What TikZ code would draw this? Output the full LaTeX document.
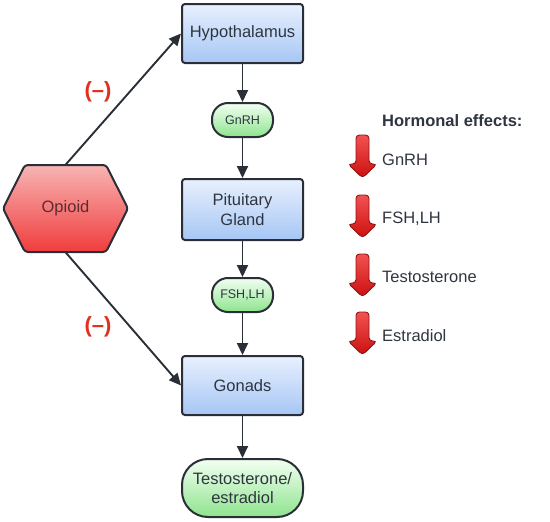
\documentclass[tikz,border=0pt]{standalone}
\usepackage{fontspec}
\setmainfont{Liberation Sans}
\usetikzlibrary{arrows.meta,shadings}
\definecolor{txt}{HTML}{2F3540}
\definecolor{edgec}{HTML}{2A2F37}
\definecolor{blueT}{HTML}{E8F0FD}
\definecolor{blueB}{HTML}{A6C6F5}
\definecolor{greenT}{HTML}{F2FFF2}
\definecolor{greenB}{HTML}{8EE48E}
\definecolor{hexT}{HTML}{F8B4B4}
\definecolor{hexB}{HTML}{F03C3C}
\definecolor{opitxt}{HTML}{5C2B2F}
\definecolor{minus}{HTML}{E0301E}
\definecolor{arrT}{HTML}{F25252}
\definecolor{arrB}{HTML}{CC0F0F}
\definecolor{arrE}{HTML}{8E1414}
\begin{document}
\begin{tikzpicture}[x=1pt,y=-1pt,
  box/.style={draw=edgec, line width=2pt, rounded corners=3pt, minimum width=121pt, minimum height=59pt,
    top color=blueT, bottom color=blueB, text=txt, font=\fontsize{16.5}{19.5}\selectfont, align=center, inner sep=0pt},
  pill/.style={draw=edgec, line width=2pt, rounded corners=16pt, minimum width=61pt, minimum height=34pt,
    top color=greenT, bottom color=greenB, text=txt, font=\fontsize{12.5}{15}\selectfont, align=center, inner sep=0pt},
  link/.style={draw=edgec, line width=1.9pt, -{Triangle[length=12pt,width=11pt]}},
  minuslab/.style={text=minus, font=\fontsize{22}{24}\selectfont\bfseries},
  legtext/.style={anchor=west, text=txt, font=\fontsize{16.5}{19.5}\selectfont, inner sep=0pt},
  harrow/.pic={
    \path[draw=arrE, line width=0.9pt, top color=arrT, bottom color=arrB, rounded corners=3.5pt]
      (-6.5,29) -- (-6.5,0) -- (6.5,0) -- (6.5,29) -- (14.5,29) -- (0,43) -- (-14.5,29) -- cycle;
  }
]
\useasboundingbox (0,0) rectangle (550,522);

% Hexagon
\path[draw=edgec, line width=2pt, top color=hexT, bottom color=hexB, rounded corners=3pt]
  (3,208.5) -- (25,165) -- (106,165) -- (128,208.5) -- (106,252) -- (25,252) -- cycle;
\node[minimum width=81pt, minimum height=87pt, inner sep=0pt, text=opitxt,
  font=\fontsize{16.5}{19}\selectfont] (opioid) at (65.5,208.5) {Opioid};

% Main chain
\node[box] (hyp) at (242.5,33.5) {Hypothalamus};
\node[pill] (gnrh) at (242.5,120) {GnRH};
\node[box, minimum height=61pt] (pit) at (242.5,209.5) {Pituitary\\Gland};
\node[pill] (fsh) at (242.5,295) {FSH,LH};
\node[box] (gon) at (242.5,385.5) {Gonads};
\node[pill, minimum width=121pt, minimum height=58pt, rounded corners=26pt,
  font=\fontsize{16.5}{19.5}\selectfont] (test) at (242.5,488) {Testosterone/\\estradiol};

\draw[link] (hyp) -- (gnrh);
\draw[link] (gnrh) -- (pit);
\draw[link] (pit) -- (fsh);
\draw[link] (fsh) -- (gon);
\draw[link] (gon) -- (test);
\draw[link] (opioid.north) -- (hyp.west);
\draw[link] (opioid.south) -- (gon.west);

\node[minuslab] (m1) at (98,92) {(–)};
\node[minuslab] (m2) at (98,327) {(–)};

% Legend
\node[legtext, font=\fontsize{16.5}{19.5}\selectfont\bfseries] (legtitle) at (382,121) {Hormonal effects:};
\pic at (362.5,135) {harrow};
\pic at (362.5,195) {harrow};
\pic at (362.5,254) {harrow};
\pic at (362.5,312) {harrow};
\node[legtext] (l1) at (382,160) {GnRH};
\node[legtext] (l2) at (382,219) {FSH,LH};
\node[legtext] (l3) at (382,277) {Testosterone};
\node[legtext] (l4) at (382,336) {Estradiol};
\end{tikzpicture}
\end{document}
